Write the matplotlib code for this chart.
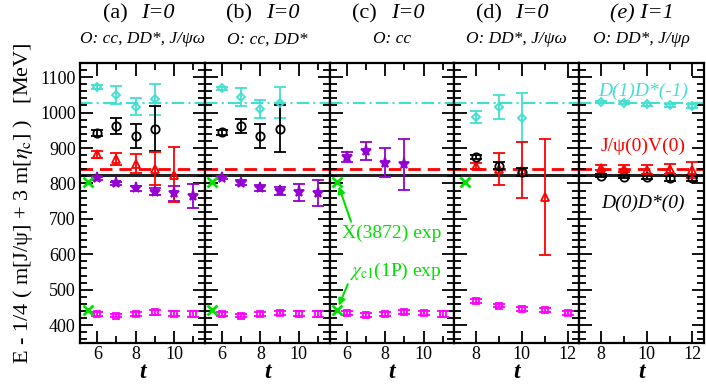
import matplotlib
matplotlib.use("Agg")
import matplotlib.pyplot as plt
from matplotlib.ticker import MultipleLocator

plt.rcParams["font.family"] = ["Liberation Serif", "DejaVu Serif"]
plt.rcParams["mathtext.fontset"] = "stix"

CYAN = "#40e0d0"
RED = "#ff0000"
PURPLE = "#9400d3"
MAGENTA = "#ff00ff"
GREEN = "#00e000"

# thresholds (MeV)
thr_dd = 825
thr_jpsiv = 841
thr_dd1 = 1028

# experimental values
exp_x3872 = 804
exp_chic1 = 443

# panel (a)
a_t_cyan = [6, 7, 8, 9]
a_cyan = [1072, 1049, 1016, 1037]
a_cyan_err = [5, 25, 24, 44]
a_t_black = [6, 7, 8, 9]
a_black = [943, 962, 933, 955]
a_black_err = [8, 22, 34, 64]
a_t_red = [6, 7, 8, 9, 10]
a_red = [882, 868, 856, 842, 825]
a_red_err = [10, 17, 27, 46, 78]
a_t_purple = [6, 7, 8, 9, 10, 11]
a_purple = [814, 800, 786, 777, 772, 765]
a_purple_err = [5, 5, 7, 10, 22, 33]
a_t_mag = [6, 7, 8, 9, 10, 11]
a_mag = [431, 427, 431, 436, 433, 431]
a_mag_err = [5, 5, 5, 6, 6, 8]

# panel (b)
b_t_cyan = [6, 7, 8, 9]
b_cyan = [1068, 1044, 1010, 1028]
b_cyan_err = [4, 25, 25, 44]
b_t_black = [6, 7, 8, 9]
b_black = [944, 962, 934, 955]
b_black_err = [8, 21, 35, 65]
b_t_purple = [6, 7, 8, 9, 10, 11]
b_purple = [816, 802, 788, 779, 775, 772]
b_purple_err = [4, 7, 8, 12, 24, 37]
b_t_mag = [6, 7, 8, 9, 10, 11]
b_mag = [432, 427, 431, 435, 433, 432]
b_mag_err = [5, 5, 5, 6, 6, 8]

# panel (c)
c_t_purple = [6, 7, 8, 9]
c_purple = [875, 891, 859, 854]
c_purple_err = [14, 26, 40, 72]
c_t_mag = [6, 7, 8, 9, 10, 11]
c_mag = [434, 429, 432, 437, 434, 432]
c_mag_err = [5, 5, 5, 6, 6, 8]

# panel (d)
d_t_cyan = [8, 9, 10]
d_cyan = [988, 1016, 986]
d_cyan_err = [17, 35, 68]
d_t_black = [8, 9, 10]
d_black = [875, 850, 833]
d_black_err = [6, 10, 12]
d_t_red = [8, 9, 10, 11]
d_red = [850, 842, 838, 762]
d_red_err = [8, 45, 80, 163]
d_t_mag = [8, 9, 10, 11, 12]
d_mag = [468, 455, 446, 443, 435]
d_mag_err = [5, 5, 5, 6, 6]

# panel (e)
e_t = [8, 9, 10, 11, 12]
e_cyan = [1030, 1028, 1023, 1020, 1019]
e_cyan_err = [4, 4, 5, 5, 6]
e_red = [845, 842, 839, 840, 838]
e_red_err = [8, 10, 12, 14, 22]
e_black = [822, 819, 819, 814, 816]
e_black_err = [4, 5, 6, 7, 8]

panel_tags = ["(a)", "(b)", "(c)", "(d)", "(e)"]
isospin = ["I=0", "I=0", "I=0", "I=0", "I=1"]
subtitles = ["O: cc, DD*, J/ψω", "O: cc, DD*", "O: cc", "O: DD*, J/ψω", "O: DD*, J/ψρ"]


def series(ax, t, v, err, color, marker, ms=6, filled=False, z=3):
    ax.errorbar(t, v, yerr=err, fmt=marker, color=color, ms=ms,
                mfc=color if filled else "none", mec=color, mew=1.3,
                elinewidth=1.3, capsize=4.5, capthick=1.3, zorder=z)


fig, axes = plt.subplots(1, 5, figsize=(7.06, 3.84), dpi=100, sharey=True)
fig.subplots_adjust(left=0.1133, right=0.997, bottom=0.107, top=0.836, wspace=0)

for i, ax in enumerate(axes):
    ax.axhline(thr_dd1, color=CYAN, lw=1.5, ls=(0, (6, 2, 1, 2)), zorder=1)
    ax.axhline(thr_jpsiv, color=RED, lw=2, ls=(0, (4.5, 2.5)), zorder=1)
    ax.axhline(thr_dd, color="#222222", lw=2.2, zorder=1)

series(axes[0], a_t_mag, a_mag, a_mag_err, MAGENTA, "s", ms=5)
series(axes[0], a_t_purple, a_purple, a_purple_err, PURPLE, "*", ms=8, filled=True)
series(axes[0], a_t_cyan, a_cyan, a_cyan_err, CYAN, "D", ms=4.5)
series(axes[0], a_t_black, a_black, a_black_err, "black", "o", ms=6)
series(axes[0], a_t_red, a_red, a_red_err, RED, "^", ms=6)

series(axes[1], b_t_mag, b_mag, b_mag_err, MAGENTA, "s", ms=5)
series(axes[1], b_t_purple, b_purple, b_purple_err, PURPLE, "*", ms=8, filled=True)
series(axes[1], b_t_cyan, b_cyan, b_cyan_err, CYAN, "D", ms=4.5)
series(axes[1], b_t_black, b_black, b_black_err, "black", "o", ms=6)

series(axes[2], c_t_mag, c_mag, c_mag_err, MAGENTA, "s", ms=5)
series(axes[2], c_t_purple, c_purple, c_purple_err, PURPLE, "*", ms=8, filled=True)

series(axes[3], d_t_mag, d_mag, d_mag_err, MAGENTA, "s", ms=5)
series(axes[3], d_t_cyan, d_cyan, d_cyan_err, CYAN, "D", ms=4.5)
series(axes[3], d_t_red, d_red, d_red_err, RED, "^", ms=6)
series(axes[3], d_t_black, d_black, d_black_err, "black", "o", ms=6, z=4)

series(axes[4], e_t, e_cyan, e_cyan_err, CYAN, "D", ms=4.5)
series(axes[4], e_t, e_black, e_black_err, "black", "o", ms=6)
series(axes[4], e_t, e_red, e_red_err, RED, "^", ms=6)

# experimental crosses
for ax in axes[:3]:
    ax.plot([5.5, 5.5], [exp_x3872, exp_chic1], "x", color=GREEN, ms=7, mew=2, zorder=5)
axes[3].plot([7.5], [exp_x3872], "x", color=GREEN, ms=7, mew=2, zorder=5)

axes[2].annotate("X(3872) exp", xy=(5.58, exp_x3872 - 12), xytext=(5.75, 660),
                 color=GREEN, fontsize=14, va="center", ha="left",
                 arrowprops=dict(arrowstyle="-|>", color=GREEN, lw=1.5,
                                 shrinkA=0, shrinkB=0, mutation_scale=10,
                                 relpos=(0.1, 1.0)))
axes[2].annotate(r"$\chi_{\rm c1}$(1P) exp", xy=(5.58, exp_chic1 + 12), xytext=(6.1, 553),
                 color=GREEN, fontsize=14, va="center", ha="left",
                 arrowprops=dict(arrowstyle="-|>", color=GREEN, lw=1.5,
                                 shrinkA=0, shrinkB=0, mutation_scale=10,
                                 relpos=(0.05, 0.5)))

# labels in panel (e)
axes[4].text(9.85, 1060, "D(1)D*(-1)", color=CYAN, style="italic", fontsize=14, ha="center", va="center")
axes[4].text(9.85, 905, "J/ψ(0)V(0)", color=RED, fontsize=14, ha="center", va="center")
axes[4].text(9.85, 744, "D(0)D*(0)", color="black", style="italic", fontsize=14, ha="center", va="center")

for i, ax in enumerate(axes):
    if i < 3:
        ax.set_xlim(5.1, 11.6)
        ax.set_xticks([6, 8, 10])
    else:
        ax.set_xlim(7.05, 12.5)
        ax.set_xticks([8, 10, 12])
    ax.xaxis.set_minor_locator(MultipleLocator(1))
    ax.yaxis.set_major_locator(MultipleLocator(100))
    ax.yaxis.set_minor_locator(MultipleLocator(20))
    ax.tick_params(which="both", direction="in", top=True, bottom=True,
                   left=True, right=True, labelsize=13, width=1.3, pad=3)
    ax.tick_params(axis="x", pad=2)
    ax.tick_params(which="major", length=9)
    ax.tick_params(which="minor", length=5)
    for sp in ax.spines.values():
        sp.set_linewidth(1.6)
    ax.text(0.5, -0.105, "t", transform=ax.transAxes, ha="center", va="center",
            fontsize=17, style="italic", weight="bold")
    if i < 4:
        ax.text(0.38, 1.175, panel_tags[i], transform=ax.transAxes,
                ha="right", va="center", fontsize=16)
        ax.text(0.49, 1.175, isospin[i], transform=ax.transAxes,
                ha="left", va="center", fontsize=16, style="italic")
    else:
        ax.text(0.5, 1.175, panel_tags[i] + " " + isospin[i], transform=ax.transAxes,
                ha="center", va="center", fontsize=16, style="italic")
    ax.text(0.5, 1.085, subtitles[i], transform=ax.transAxes, ha="center", va="center",
            fontsize=12.5, style="italic")

axes[0].set_ylim(350, 1140)
axes[0].set_ylabel(r"E - 1/4 ( m[J/ψ] + 3 m[$\eta_{\rm c}$] )   [MeV]", fontsize=16, labelpad=4)

fig.savefig("out.png", dpi=100)
